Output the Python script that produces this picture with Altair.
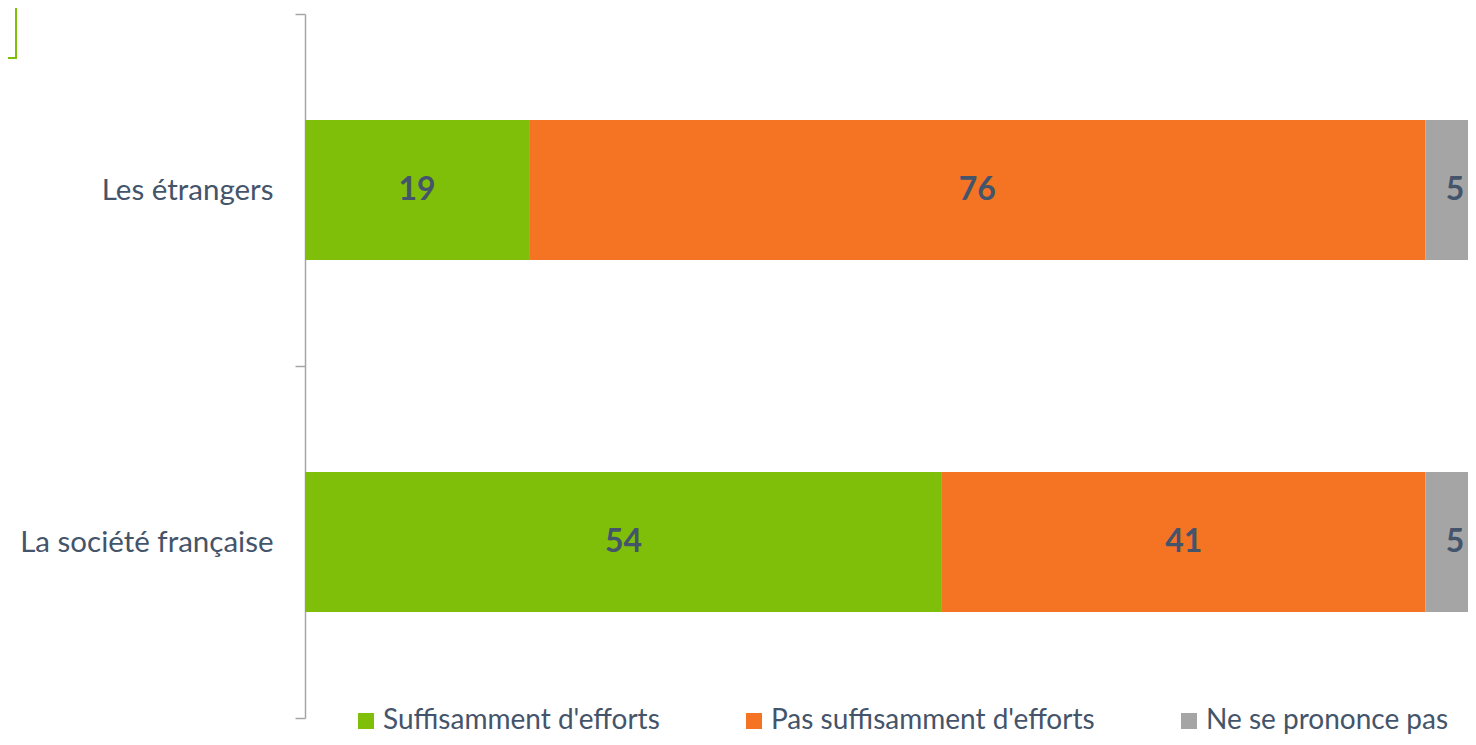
import altair as alt
import pandas as pd

categories = ["Les étrangers", "La société française"]
series = ["Suffisamment d'efforts", "Pas suffisamment d'efforts", "Ne se prononce pas"]
values_etrangers = [19, 76, 5]
values_societe = [54, 41, 5]
colors = ["#80BF09", "#F47424", "#A5A5A5"]

rows = []
for cat, vals in zip(categories, [values_etrangers, values_societe]):
    for i, (s, v) in enumerate(zip(series, vals)):
        rows.append({"cat": cat, "serie": s, "val": v, "order": i})
df = pd.DataFrame(rows)

TEXT = "#44546A"
FONT = "Lato"
XDOM = [0, 98.6]  # the reference crops the right end of the bars

y_enc = alt.Y("cat:N", sort=categories, title=None,
              scale=alt.Scale(paddingInner=0, paddingOuter=0),
              axis=alt.Axis(domainColor="#A6A6A6", domainWidth=1.5, tickColor="#A6A6A6",
                            tickWidth=1.5, tickSize=10, tickBand="extent",
                            labelFont=FONT, labelFontSize=29.5, labelColor=TEXT,
                            labelPadding=22, labelLimit=400))

x_enc = alt.X("val:Q", stack="zero", title=None,
              scale=alt.Scale(domain=XDOM, nice=False), axis=None)

bars = alt.Chart(df).mark_bar(size=140, clip=True).encode(
    x=x_enc,
    y=y_enc,
    color=alt.Color("serie:N", sort=series,
                    scale=alt.Scale(domain=series, range=colors),
                    legend=alt.Legend(title=None, orient="none", direction="horizontal",
                                      legendX=47, legendY=693, padding=0,
                                      symbolType="square", symbolSize=256,
                                      symbolStrokeWidth=0, symbolOpacity=1,
                                      labelFont=FONT, labelFontSize=28, labelColor=TEXT,
                                      labelOffset=3, columnPadding=80, labelLimit=500)),
    order=alt.Order("order:Q"),
)

labels = alt.Chart(df).mark_text(font=FONT, fontSize=32, fontWeight="bold",
                                 color=TEXT, baseline="middle").encode(
    x=alt.X("mid:Q", scale=alt.Scale(domain=XDOM, nice=False), axis=None),
    y=alt.Y("cat:N", sort=categories),
    text="val:Q",
).transform_window(
    cum="sum(val)", sort=[alt.SortField("order")], groupby=["cat"]
).transform_calculate(mid="datum.cum - datum.val / 2")

box = alt.Chart(pd.DataFrame({"k": [0]})).mark_rect(
    fill=None, stroke="#80BF09", strokeWidth=2
).encode(x=alt.value(-340), x2=alt.value(-289), y=alt.value(-30), y2=alt.value(44))

chart = alt.layer(bars, labels, box).properties(
    width=1163, height=704,
    autosize=alt.AutoSizeParams(type="none"),
    padding={"left": 297, "top": 6, "right": 0, "bottom": 19},
).configure_view(stroke=None)

chart.save("out.html", embed_options={"renderer": "svg", "actions": False})
